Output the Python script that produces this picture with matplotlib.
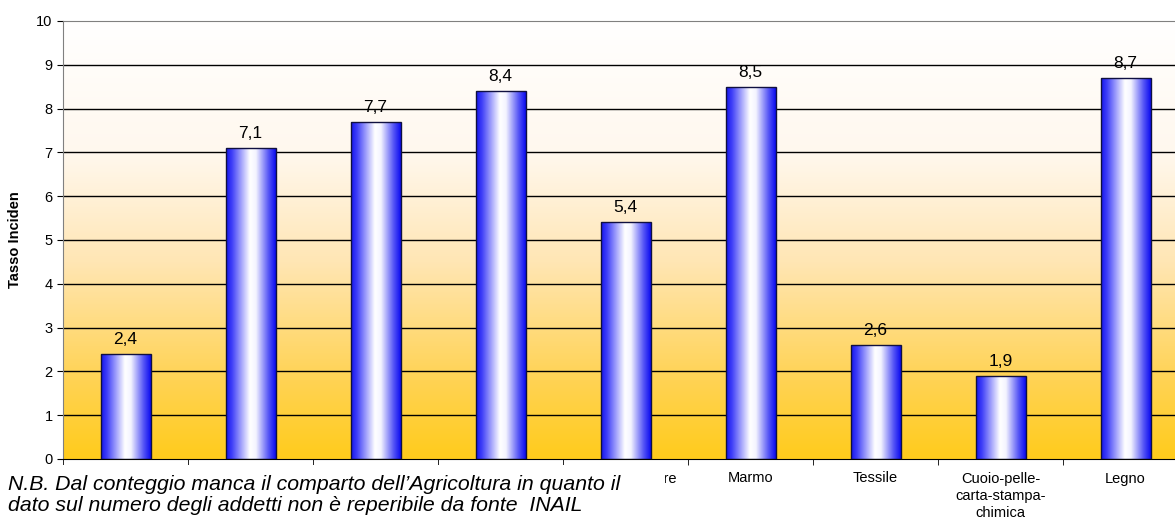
import numpy as np
import matplotlib.pyplot as plt
from matplotlib.colors import LinearSegmentedColormap
from matplotlib.patches import Rectangle

plt.rcParams['font.family'] = ['Liberation Sans', 'DejaVu Sans']

# comparti e tasso di incidenza
comparti = ['Edilizia', 'Metalli', 'Chimica', 'Trasporti',
            'Agro-alimentare', 'Marmo', 'Tessile',
            'Cuoio-pelle-\ncarta-stampa-\nchimica', 'Legno']
tasso = [2.4, 7.1, 7.7, 8.4, 5.4, 8.5, 2.6, 1.9, 8.7]
etichette = ['2,4', '7,1', '7,7', '8,4', '5,4', '8,5', '2,6', '1,9', '8,7']

fig = plt.figure(figsize=(11.75, 5.19), dpi=100)
ax = fig.add_axes([63 / 1175, 1 - 459 / 519, 1125 / 1175, 438 / 519])
ax.set_xlim(-0.5, len(tasso) - 0.5)
ax.set_ylim(0, 10)

# sfondo sfumato dal bianco al giallo oro
sfondo = LinearSegmentedColormap.from_list(
    'sfondo', [(0, '#FFCB1C'), (0.2, '#FFD45A'), (0.45, '#FFE6B4'),
               (0.7, '#FFF8EE'), (1, '#FFFFFF')])
grad = np.linspace(0, 1, 256).reshape(-1, 1)
ax.imshow(grad, cmap=sfondo, origin='lower', aspect='auto',
          extent=[-0.5, len(tasso) - 0.5, 0, 10], zorder=0)

# griglia orizzontale
for y in range(1, 10):
    ax.axhline(y, color='black', lw=1.0, zorder=1)

# barre con sfumatura blu-bianco-blu
cil = LinearSegmentedColormap.from_list(
    'cil', [(0, '#1414F0'), (0.12, '#4040F8'), (0.48, '#FFFFFF'),
            (0.6, '#F4F4FF'), (0.85, '#5858F6'), (1, '#0A0AF0')])
hgrad = np.linspace(0, 1, 256).reshape(1, -1)
larg = 0.4
bars = ax.bar(range(len(tasso)), tasso, width=larg, color='none',
              edgecolor='#101040', lw=1.0, zorder=3)
for b, v, lab in zip(bars, tasso, etichette):
    x0 = b.get_x()
    im = ax.imshow(hgrad, cmap=cil, aspect='auto',
                   extent=[x0, x0 + larg, 0, v], zorder=2)
    im.set_clip_path(b)
    ax.text(b.get_x() + larg / 2, v + 0.16, lab, ha='center', va='bottom',
            fontsize=12.5, zorder=4)

# assi
ax.set_yticks(range(0, 11))
ax.tick_params(axis='y', labelsize=10.5, length=4, direction='out')
ax.set_xticks(range(len(tasso)))
ax.set_xticklabels(comparti, fontsize=10.5, linespacing=1.3)
ax.tick_params(axis='x', length=0, pad=9)
ax.set_xticks(np.arange(-0.5, len(tasso), 1), minor=True)
ax.tick_params(axis='x', which='minor', length=4, direction='out')
for s in ['left', 'top', 'right']:
    ax.spines[s].set_color('#808080')
ax.spines['bottom'].set_color('black')
ax.set_ylabel('Tasso Inciden', fontsize=10.5, fontweight='bold', labelpad=10)

# nota a piè di grafico su riquadro bianco
fig.add_artist(Rectangle((0, 0), 665 / 1175, 54 / 519, transform=fig.transFigure,
                         facecolor='white', edgecolor='none', zorder=9))
fig.text(8 / 1175, 4 / 519,
         'N.B. Dal conteggio manca il comparto dell\u2019Agricoltura in quanto il\n'
         'dato sul numero degli addetti non \u00e8 reperibile da fonte  INAIL',
         fontsize=15.3, style='italic', ha='left', va='bottom', linespacing=1.1,
         zorder=10)

fig.savefig('out.png', dpi=100)
